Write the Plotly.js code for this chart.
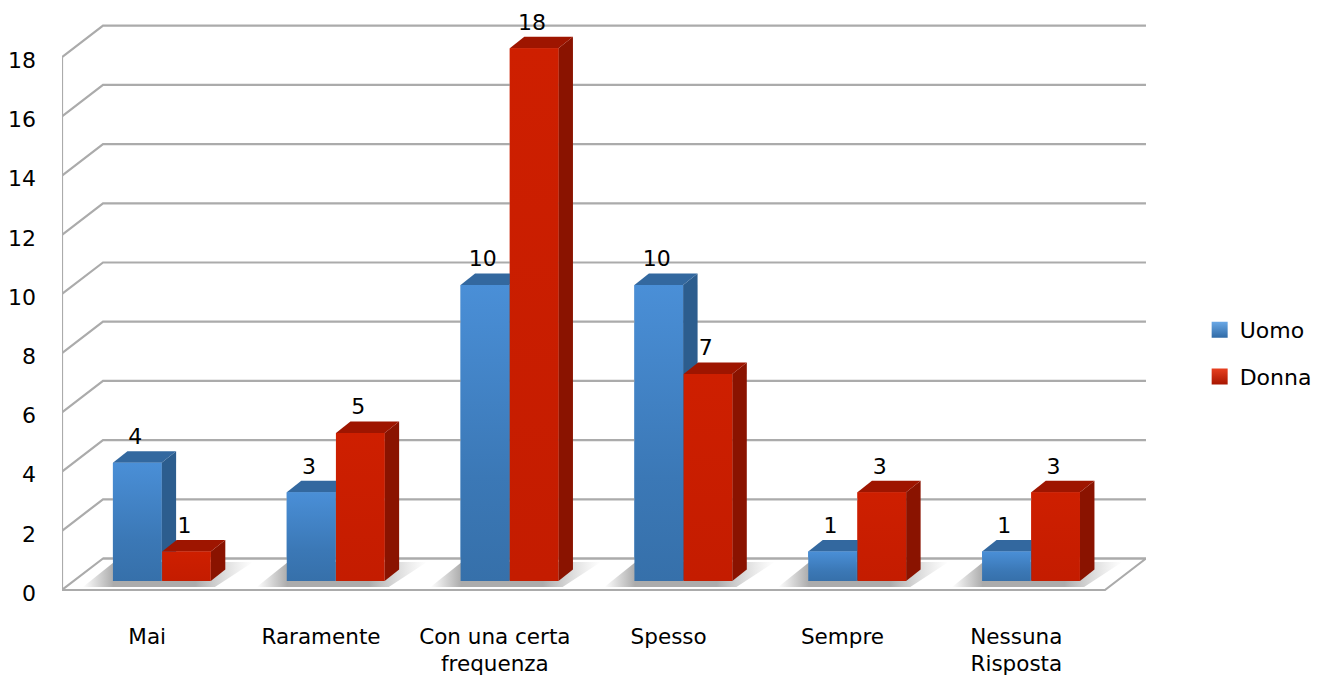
<!DOCTYPE html>
<html>
<head>
<meta charset="utf-8">
<script src="https://cdn.plot.ly/plotly-3.0.1.min.js"></script>
<style>html,body{margin:0;padding:0;background:#fff}#chart{width:1321px;height:682px}</style>
</head>
<body>
<div id="chart"></div>
<script>
var categories = ["Mai", "Raramente", "Con una certa<br>frequenza", "Spesso", "Sempre", "Nessuna<br>Risposta"];
var uomo = [4, 3, 10, 10, 1, 1];
var donna = [1, 5, 18, 7, 3, 3];
var yTicks = [0, 2, 4, 6, 8, 10, 12, 14, 16, 18];

var pxPerCat = 173.83, pxPerUnit = 29.6;
var wallX = 41 / pxPerCat, wallY = 31.5 / pxPerUnit;     // depth of the chart box
var floorEnd = 6;
var barDX = 14.5 / pxPerCat, barDY = 11.5 / pxPerUnit;   // depth of a bar
var barBase = 0.3;
var barW = 0.28;
var offU = -0.207, offD = 0.076;

var gridColor = "#ababab";
var traces = [];

function poly(xs, ys, fill, grad) {
  var t = {x: xs.concat([xs[0]]), y: ys.concat([ys[0]]), mode: "lines", fill: "toself",
           line: {width: 0, color: "rgba(0,0,0,0)"}, showlegend: false, hoverinfo: "skip"};
  if (grad) t.fillgradient = grad; else t.fillcolor = fill;
  return t;
}

// floor, walls and grid lines
traces.push(poly([0, floorEnd, floorEnd + wallX, wallX], [0, 0, wallY, wallY], "#ffffff"));

// soft shadows on the floor
categories.forEach(function (c, i) {
  var l = i + 0.12, r = i + 1.1;
  traces.push(poly([l, i + 0.88, r, i + 0.3],
                   [0.1, 0.1, 0.95, 0.95], null,
    {type: "horizontal", start: l, stop: r, colorscale: [
      [0, "rgba(172,172,172,0)"], [0.18, "rgba(172,172,172,1)"], [0.66, "rgba(172,172,172,1)"], [1, "rgba(200,200,200,0)"]]}));
});

var gx = [], gy = [];
yTicks.forEach(function (v) {
  if (v > 0) { gx.push(0, wallX, floorEnd + wallX, null); gy.push(v, v + wallY, v + wallY, null); }
});
gx.push(0, wallX, floorEnd + wallX, floorEnd, 0, 0, null, wallX, floorEnd + wallX);
gy.push(0, wallY, wallY, 0, 0, 18, null, wallY, wallY);
traces.push({x: gx, y: gy, mode: "lines", line: {color: gridColor, width: 2.2}, showlegend: false, hoverinfo: "skip"});

// real bars (front faces)
var xCenters = categories.map(function (c, i) { return i + 0.5; });
traces.push({type: "bar", name: "Uomo", x: xCenters, y: uomo, base: barBase, width: barW, offset: offU,
  marker: {color: "#3f80c2", line: {width: 0}}, showlegend: false, hoverinfo: "skip"});
traces.push({type: "bar", name: "Donna", x: xCenters, y: donna, base: barBase, width: barW, offset: offD,
  marker: {color: "#cb1d00", line: {width: 0}}, showlegend: false, hoverinfo: "skip"});

// 3D faces
function addBar(xc, off, v, side, top, grad) {
  var l = xc + off, r = l + barW, b = barBase, t = b + v;
  traces.push(poly([r, r + barDX, r + barDX, r], [b, b + barDY, t + barDY, t], side));
  traces.push(poly([l, l + barDX, r + barDX, r], [t, t + barDY, t + barDY, t], top));
  traces.push(poly([l, r, r, l], [b, b, t, t], null,
    {type: "vertical", start: b, stop: t, colorscale: grad}));
}
var blueGrad = [[0, "#3670aa"], [0.35, "#3b78b6"], [1, "#4a8fd7"]];
var redGrad = [[0, "#c41c00"], [1, "#ce1f00"]];
xCenters.forEach(function (xc, i) {
  addBar(xc, offU, uomo[i], "#2c5d8e", "#33689f", blueGrad);
  addBar(xc, offD, donna[i], "#8a1300", "#9e1500", redGrad);
});

// value labels
function labels(values, off) {
  return {x: xCenters.map(function (x) { return x + off + barW / 2 - 0.012; }),
          y: values.map(function (v) { return v + 1.12; }),
          text: values.map(String), mode: "text", textposition: "middle center",
          textfont: {family: "DejaVu Sans", size: 22, color: "#000"},
          cliponaxis: false, showlegend: false, hoverinfo: "skip"};
}
traces.push(labels(uomo, offU));
traces.push(labels(donna, offD));

// legend entries
traces.push({x: [null], y: [null], name: "Uomo", mode: "markers", legendgroup: "u",
  marker: {symbol: "square", size: 16, color: "#6aa8e6", gradient: {type: "vertical", color: "#2f6aa6"}}});
traces.push({x: [null], y: [null], name: "Donna", mode: "markers", legendgroup: "d",
  marker: {symbol: "square", size: 16, color: "#e84020", gradient: {type: "vertical", color: "#a81600"}}});

var layout = {
  width: 1321, height: 682,
  margin: {l: 62, r: 175, t: 0, b: 82, pad: 0},
  paper_bgcolor: "#fff", plot_bgcolor: "#fff",
  font: {family: "DejaVu Sans", size: 21.5, color: "#000"},
  barmode: "overlay",
  xaxis: {type: "linear", range: [0, 1084 / pxPerCat], tickmode: "array",
    tickvals: categories.map(function (c, i) { return i + 0.49; }), ticktext: categories,
    showgrid: false, zeroline: false, showline: false, ticks: "", tickangle: 0, ticklabelstandoff: 21},
  yaxis: {range: [-10 / pxPerUnit, 590 / pxPerUnit], tickmode: "array", tickvals: yTicks,
    showgrid: false, zeroline: false, showline: false, ticks: "", ticklabelstandoff: 25,
    ticklabelshift: 3, tickfont: {family: "DejaVu Sans", size: 22, color: "#000"}},
  legend: {x: 1.0495, y: 0.485, xanchor: "left", yanchor: "top", traceorder: "grouped", tracegroupgap: 15,
    bgcolor: "rgba(0,0,0,0)", font: {family: "DejaVu Sans", size: 22, color: "#000"}, itemwidth: 30},
  showlegend: true
};
Plotly.newPlot("chart", traces, layout, {displayModeBar: false, staticPlot: true});
</script>
</body>
</html>
